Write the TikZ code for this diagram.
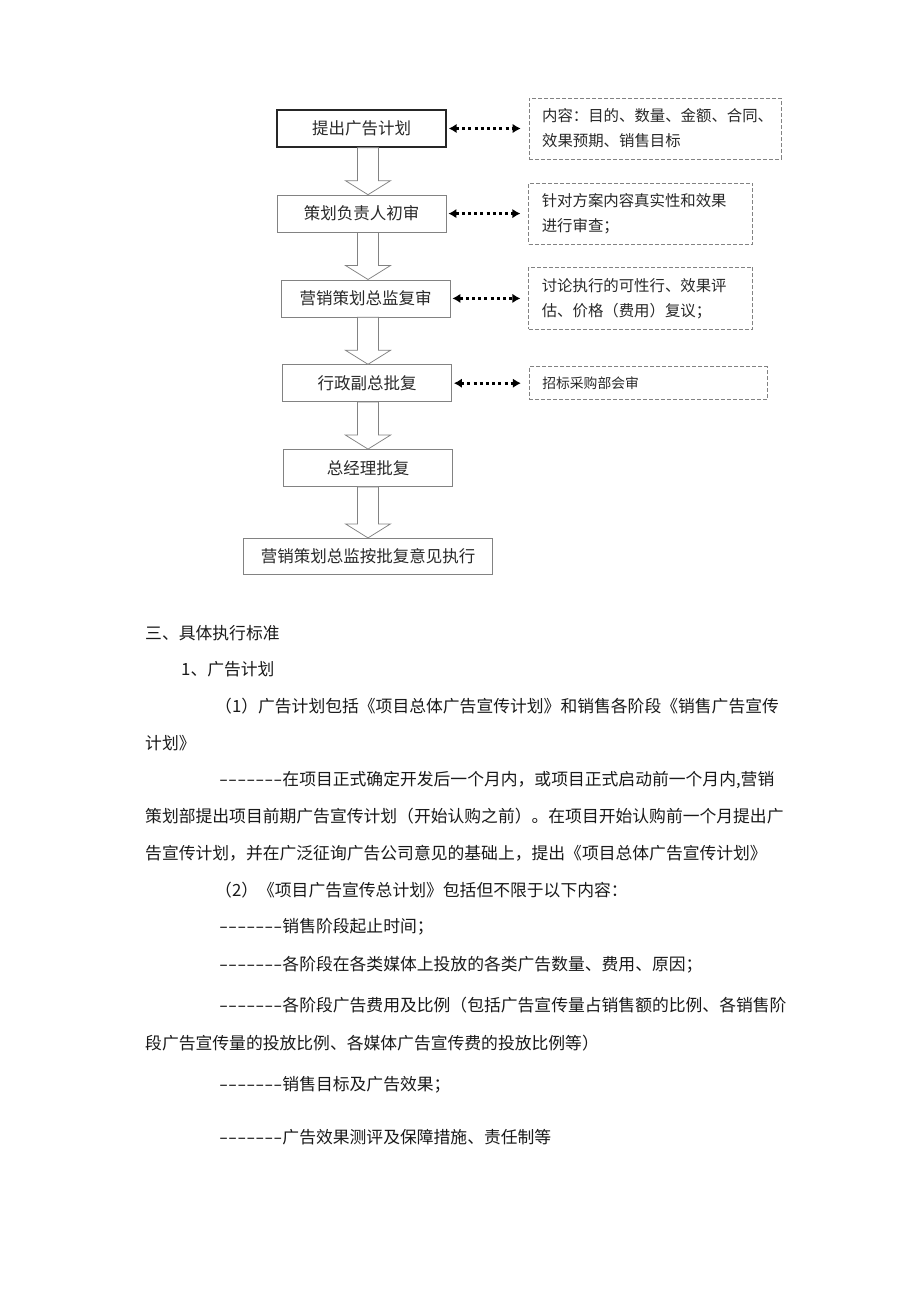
\documentclass[tikz,border=0pt]{standalone}
\usepackage{fontspec}
\setmainfont{Noto Sans CJK SC}
\newfontfamily\dashfont[FakeStretch=1.55,Ligatures=TeXOff]{Noto Sans CJK SC}
\usepackage{tikz}
\usetikzlibrary{
    arrows.meta,
    positioning,
    calc
}
\definecolor{boxgray}{RGB}{130,130,130}
\definecolor{inkgray}{RGB}{40,40,40}
\newcommand{\dashrun}{{\dashfont -------}}
\tikzstyle{link} = [
    {Latex[length=8pt,width=9.5pt]}-{Latex[length=8pt,width=9.5pt]},
    line width=2.8pt,
    dash pattern=on 3pt off 3.2pt,
    shorten <=2pt,
    shorten >=8pt
]

\begin{document}
\begin{tikzpicture}[
    x=1pt, y=-1pt,
    node distance=47pt,
    stage/.style={rectangle, draw=boxgray, line width=0.8pt, fill=white, minimum width=169pt, minimum height=37pt, inner sep=0pt, text=inkgray, font=\fontsize{16.5}{16.5}\selectfont},
    note/.style={rectangle, draw=boxgray, line width=0.8pt, dash pattern=on 4pt off 2pt, align=left, inner xsep=13pt, inner ysep=0pt, text=inkgray, font=\fontsize{15.4}{25}\selectfont},
    hollow/.style={draw=boxgray, line width=0.75pt, fill=white, to path={
        ([xshift=-10.5pt]spine |- \tikztostart.south)
        -- ([xshift=-10.5pt,yshift=14pt]spine |- \tikztotarget.north)
        -- ([xshift=-22.5pt,yshift=14pt]spine |- \tikztotarget.north)
        -- (spine |- \tikztotarget.north)
        -- ([xshift=22.5pt,yshift=14pt]spine |- \tikztotarget.north)
        -- ([xshift=10.5pt,yshift=14pt]spine |- \tikztotarget.north)
        -- ([xshift=10.5pt]spine |- \tikztostart.south) -- cycle}},
    body/.style={anchor=west, inner sep=0pt, text=black!90, font=\fontsize{16.8}{16.8}\selectfont}
]
    \useasboundingbox (0,0) rectangle (920,1301);
    \coordinate (spine) at (368,0);

    % Approval steps
    \node[stage, draw=black!85, line width=1.4pt] (propose) at (361.5,128.5) {提出广告计划};
    \node[stage, below=of propose] (firstcheck) {策划负责人初审};
    \node[stage, below=of firstcheck, xshift=4pt] (recheck) {营销策划总监复审};
    \node[stage, below=of recheck, xshift=1.5pt] (viceok) {行政副总批复};
    \node[stage, below=of viceok, xshift=1pt] (gmok) {总经理批复};
    \node[stage, minimum width=249pt, minimum height=36pt, below=51pt of gmok] (execute) {营销策划总监按批复意见执行};

    % Notes
    \node[note, text width=226pt, minimum height=61pt, right=82pt of propose] (contentnote) {内容：目的、数量、金额、合同、\\效果预期、销售目标};
    \node[note, text width=198pt, minimum height=61pt, right=82pt of firstcheck] (truthnote) {针对方案内容真实性和效果\\进行审查；};
    \node[note, text width=198pt, minimum height=62pt, right=78pt of recheck] (feasnote) {讨论执行的可性行、效果评\\估、价格（费用）复议；};
    \node[note, text width=212pt, minimum height=33pt, font=\fontsize{13.8}{13.8}\selectfont, right=77pt of viceok] (bidnote) {招标采购部会审};

    % Block arrows
    \draw[hollow] (propose) to (firstcheck);
    \draw[hollow] (firstcheck) to (recheck);
    \draw[hollow] (recheck) to (viceok);
    \draw[hollow] (viceok) to (gmok);
    \draw[hollow] (gmok) to (execute);

    % Dotted links
    \draw[link] (propose.east) -- (propose.east -| contentnote.west);
    \draw[link] (firstcheck.east) -- (firstcheck.east -| truthnote.west);
    \draw[link] (recheck.east) -- (recheck.east -| feasnote.west);
    \draw[link] (viceok.east) -- (viceok.east -| bidnote.west);

    % Standards text
    \node[body] (sec3) at (145,633) {三、具体执行标准};
    \node[body] (item1) at (181,669) {1、广告计划};
    \node[body] (para1a) at (215,706) {（1）广告计划包括《项目总体广告宣传计划》和销售各阶段《销售广告宣传};
    \node[body] (para1b) at (145,743) {计划》};
    \node[body] (para2a) at (219,780) {\dashrun 在项目正式确定开发后一个月内，或项目正式启动前一个月内,营销};
    \node[body] (para2b) at (145,816) {策划部提出项目前期广告宣传计划（开始认购之前）。在项目开始认购前一个月提出广};
    \node[body] (para2c) at (145,853) {告宣传计划，并在广泛征询广告公司意见的基础上，提出《项目总体广告宣传计划》};
    \node[body] (para3) at (215,890) {（2）《项目广告宣传总计划》包括但不限于以下内容：};
    \node[body] (list1) at (219,927) {\dashrun 销售阶段起止时间；};
    \node[body] (list2) at (219,965) {\dashrun 各阶段在各类媒体上投放的各类广告数量、费用、原因；};
    \node[body] (list3a) at (219,1005) {\dashrun 各阶段广告费用及比例（包括广告宣传量占销售额的比例、各销售阶};
    \node[body] (list3b) at (145,1043) {段广告宣传量的投放比例、各媒体广告宣传费的投放比例等）};
    \node[body] (list4) at (219,1085) {\dashrun 销售目标及广告效果；};
    \node[body] (list5) at (219,1137) {\dashrun 广告效果测评及保障措施、责任制等};

\end{tikzpicture}
\end{document}
